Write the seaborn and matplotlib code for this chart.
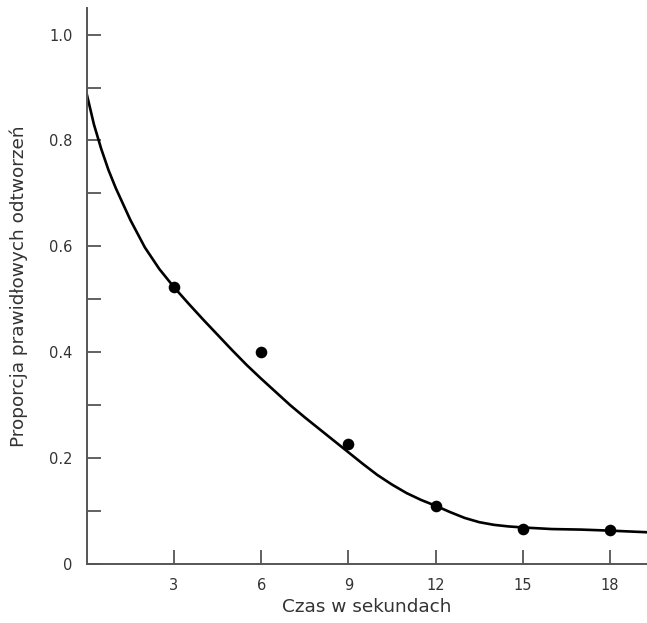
import numpy as np
import pandas as pd
import matplotlib
matplotlib.use('Agg')
import matplotlib.pyplot as plt
import seaborn as sns


# Data

# measured points (seconds, proportion correct)
czas = [3, 6, 9, 12, 15, 18]
proporcja = [0.523, 0.400, 0.226, 0.110, 0.067, 0.065]

# fitted curve
krzywa_x = [0, 0.25, 0.5, 0.75, 1.0, 1.5, 2.0, 2.5, 3.0, 3.5, 4.0, 4.5,
            5.0, 5.5, 6.0, 6.5, 7.0, 7.5, 8.0, 8.5, 9.0, 9.5, 10.0, 10.5,
            11.0, 11.5, 12.0, 12.5, 13.0, 13.5, 14.0, 14.5, 15.0, 16.0,
            17.0, 18.0, 19.27]
krzywa_y = [0.888, 0.830, 0.784, 0.744, 0.710, 0.650, 0.598, 0.557, 0.523,
            0.492, 0.462, 0.433, 0.404, 0.376, 0.350, 0.325, 0.300, 0.277,
            0.255, 0.233, 0.211, 0.189, 0.168, 0.150, 0.134, 0.121, 0.110,
            0.098, 0.087, 0.079, 0.074, 0.071, 0.069, 0.066, 0.065, 0.063,
            0.060]

x_ticks = [3, 6, 9, 12, 15, 18]
y_ticks = [0, 0.1, 0.2, 0.3, 0.4, 0.5, 0.6, 0.7, 0.8, 0.9, 1.0]
y_labels = ['0', '', '0.2', '', '0.4', '', '0.6', '', '0.8', '', '1.0']

punkty_df = pd.DataFrame({'czas': czas, 'proporcja': proporcja})
krzywa_df = pd.DataFrame({'x': krzywa_x, 'y': krzywa_y})


# Chart

sns.set_theme(style='ticks')
plt.rcParams['font.family'] = ['DejaVu Sans']

fig = plt.figure(figsize=(6.47, 6.23), dpi=100)
ax = fig.add_axes([0.134, 0.0947, 0.866, 0.8923])

sns.lineplot(data=krzywa_df, x='x', y='y', color='black', linewidth=1.9,
             sort=False, ax=ax)
sns.scatterplot(data=punkty_df, x='czas', y='proporcja', color='black',
                s=70, linewidth=0, zorder=3, ax=ax)

ax.set_xlim(0, 19.27)
ax.set_ylim(0, 1.05)
ax.set_xticks(x_ticks)
ax.set_yticks(y_ticks)
ax.set_yticklabels(y_labels)

for side in ['top', 'right']:
    ax.spines[side].set_visible(False)
for side in ['left', 'bottom']:
    ax.spines[side].set_color('#555555')
    ax.spines[side].set_linewidth(1.4)

ax.tick_params(axis='both', direction='in', length=10, width=1.3,
               color='#555555', labelsize=10.5, labelcolor='#333333', pad=10)

ax.set_xlabel('Czas w sekundach', fontsize=13.3, color='#333333',
              labelpad=4)
ax.set_ylabel('Proporcja prawidłowych odtworzeń', fontsize=13.3,
              color='#333333', labelpad=15)

fig.savefig('out.png', dpi=100)
